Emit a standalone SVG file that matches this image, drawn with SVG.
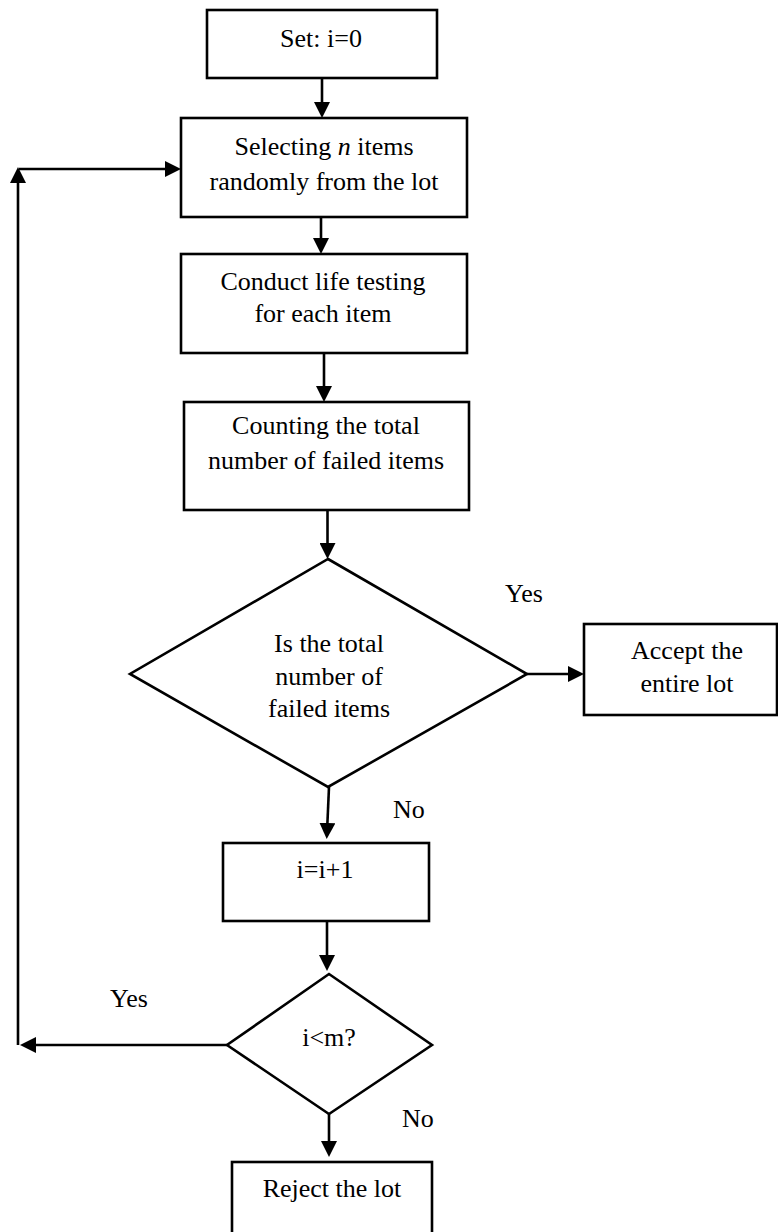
<svg xmlns="http://www.w3.org/2000/svg" width="778" height="1232" viewBox="0 0 778 1232">
<defs>
<marker id="ah" markerUnits="userSpaceOnUse" markerWidth="16" markerHeight="16" viewBox="0 0 16 16" refX="5" refY="8" orient="auto">
<path d="M0,0 L16,8 L0,16 z" fill="#000"/>
</marker>
<style>
.box{fill:#fff;stroke:#000;stroke-width:2.6}
.ln{fill:none;stroke:#000;stroke-width:2.6}
.arr{fill:none;stroke:#000;stroke-width:2.6;marker-end:url(#ah)}
text{font-family:"Liberation Serif","Times New Roman",serif;font-size:26px;fill:#000}
.c{text-anchor:middle}
</style>
</defs>
<rect width="778" height="1232" fill="#fff"/>
<g id="connectors">
<line class="arr" x1="322" y1="78" x2="322" y2="107"/>
<line class="arr" x1="321" y1="217" x2="321" y2="243"/>
<line class="arr" x1="324" y1="353" x2="324" y2="391"/>
<line class="arr" x1="327.5" y1="510" x2="327.5" y2="548"/>
<line class="arr" x1="527" y1="674" x2="573" y2="674"/>
<line class="arr" x1="329" y1="787" x2="327.2" y2="828"/>
<line class="arr" x1="327" y1="921" x2="327" y2="960"/>
<line class="arr" x1="227" y1="1045" x2="31" y2="1045"/>
<line class="arr" x1="18" y1="1045" x2="18" y2="178"/>
<line class="arr" x1="19" y1="169" x2="170" y2="169"/>
<line class="arr" x1="329" y1="1114" x2="329" y2="1146"/>
</g>
<g id="n1"><rect class="box" x="207" y="10" width="230" height="68"/><text class="c" x="321" y="47">Set: i=0</text></g>
<g id="n2"><rect class="box" x="181" y="118" width="286" height="99"/><text class="c" x="324" y="155">Selecting <tspan font-style="italic">n</tspan> items</text><text class="c" x="324" y="190">randomly from the lot</text></g>
<g id="n3"><rect class="box" x="181" y="254" width="286" height="99"/><text class="c" x="323" y="290">Conduct life testing</text><text class="c" x="323" y="322">for each item</text></g>
<g id="n4"><rect class="box" x="184" y="402" width="285" height="108"/><text class="c" x="326" y="434">Counting the total</text><text class="c" x="326" y="469">number of failed items</text></g>
<g id="d1"><polygon class="box" points="328,559 527,674 328,787 130,674"/><text class="c" x="329" y="652">Is the total</text><text class="c" x="329" y="685">number of</text><text class="c" x="329" y="717">failed items</text></g>
<g id="n5"><rect class="box" x="584" y="624" width="193" height="91"/><text class="c" x="687" y="659">Accept the</text><text class="c" x="687" y="692">entire lot</text></g>
<g id="n6"><rect class="box" x="223" y="843" width="206" height="78"/><text class="c" x="325" y="878">i=i+1</text></g>
<g id="d2"><polygon class="box" points="329,974 432,1045 329,1114 227,1045"/><text class="c" x="329" y="1046">i&lt;m?</text></g>
<g id="n7"><rect class="box" x="232" y="1162" width="200" height="90"/><text class="c" x="332" y="1197">Reject the lot</text></g>
<g id="labels">
<text class="c" x="524" y="602">Yes</text>
<text x="393" y="818">No</text>
<text class="c" x="129" y="1007">Yes</text>
<text x="402" y="1127">No</text>
</g>
</svg>
